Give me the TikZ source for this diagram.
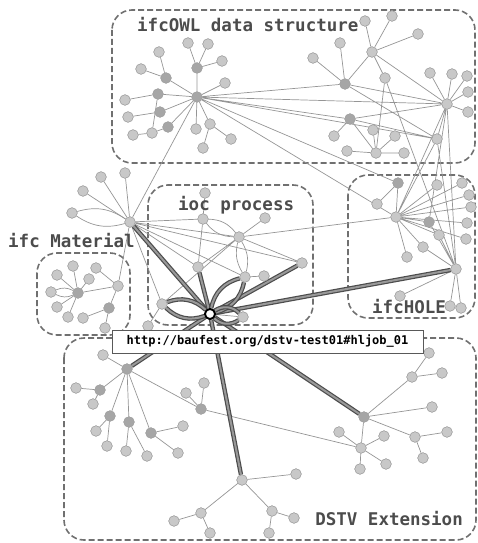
\documentclass[tikz,border=0pt]{standalone}
\usepackage{fontspec}
\setmonofont{DejaVu Sans Mono}
\definecolor{nodegray}{HTML}{C8C8C8}
\definecolor{nodeborder}{HTML}{A2A2A2}
\definecolor{darkfill}{HTML}{A6A6A6}
\definecolor{edgegray}{HTML}{959595}
\definecolor{boxgray}{HTML}{707070}
\definecolor{labgray}{HTML}{4C4C4C}
\tikzset{
  nd/.style={circle, fill=nodegray, draw=nodeborder, line width=0.5pt, minimum size=10.5pt, inner sep=0pt},
  dk/.style={nd, fill=darkfill},
  ed/.style={draw=edgegray, line width=0.7pt},
  th/.style={draw=black!70, double=black!40, double distance=2pt, line width=1.2pt},
  grp/.style={draw=boxgray, dash pattern=on 6pt off 3pt, line width=1.6pt, rounded corners=20pt},
  lbl/.style={text=labgray, font=\ttfamily\bfseries\fontsize{17.5}{20}\selectfont, inner sep=0pt},
  hub/.style={circle, fill=white, draw=black, line width=1.8pt, minimum size=10pt, inner sep=0pt}
}
\begin{document}
\begin{tikzpicture}[x=1pt,y=-1pt]
\useasboundingbox (0,0) rectangle (478,543);
% group boxes
\draw[grp] (112,10) rectangle (475,163);
\draw[grp] (148,185) rectangle (313,325);
\draw[grp] (348,175) rectangle (475,318);
\draw[grp] (37,253) rectangle (130,335);
\draw[grp] (64,338) rectangle (476,540);

% ---- nodes: ifcOWL
\node[dk] (A) at (197,97) {};
\node[dk] (a1) at (197,68) {};
\node[nd] (a11) at (188,43) {};
\node[nd] (a12) at (208,44) {};
\node[nd] (a13) at (222,61) {};
\node[nd] (a2) at (225,83) {};
\node[dk] (a3) at (166,78) {};
\node[nd] (a31) at (159,52) {};
\node[nd] (a32) at (141,69) {};
\node[dk] (a4) at (158,94) {};
\node[nd] (a41) at (125,100) {};
\node[dk] (a5) at (160,112) {};
\node[nd] (a51) at (128,117) {};
\node[dk] (a6) at (168,127) {};
\node[nd] (a61) at (152,133) {};
\node[nd] (a62) at (133,135) {};
\node[nd] (a7) at (196,129) {};
\node[nd] (a8) at (210,124) {};
\node[nd] (a81) at (203,148) {};
\node[nd] (a82) at (231,139) {};
\node[dk] (B) at (345,84) {};
\node[nd] (b1) at (340,43) {};
\node[nd] (b2) at (313,58) {};
\node[nd] (C) at (372,52) {};
\node[nd] (c1) at (365,21) {};
\node[nd] (c2) at (392,16) {};
\node[nd] (c3) at (418,34) {};
\node[nd] (c4) at (385,78) {};
\node[nd] (D) at (447,104) {};
\node[nd] (d1) at (430,73) {};
\node[nd] (d2) at (452,74) {};
\node[nd] (d3) at (467,76) {};
\node[nd] (d4) at (468,92) {};
\node[nd] (d5) at (468,112) {};
\node[dk] (E) at (350,119) {};
\node[nd] (e1) at (334,136) {};
\node[nd] (F) at (376,153) {};
\node[nd] (f1) at (347,151) {};
\node[nd] (f2) at (404,153) {};
\node[nd] (f3) at (373,130) {};
\node[nd] (f4) at (395,136) {};
\node[nd] (G) at (437,139) {};
% ---- ifcHOLE
\node[nd] (H) at (396,217) {};
\node[dk] (I) at (398,183) {};
\node[nd] (i1) at (377,204) {};
\node[nd] (h1) at (437,185) {};
\node[nd] (h2) at (462,183) {};
\node[nd] (h3) at (469,195) {};
\node[nd] (h4) at (471,207) {};
\node[nd] (h5) at (467,223) {};
\node[nd] (h6) at (466,239) {};
\node[dk] (h7) at (429,222) {};
\node[nd] (h8) at (439,235) {};
\node[nd] (h9) at (423,247) {};
\node[nd] (h10) at (407,257) {};
\node[nd] (J) at (456,269) {};
\node[nd] (j1) at (400,296) {};
\node[nd] (j2) at (450,306) {};
\node[nd] (j3) at (461,308) {};
% ---- ioc process
\node[nd] (k0) at (205,193) {};
\node[nd] (K) at (203,219) {};
\node[nd] (L) at (239,237) {};
\node[nd] (l1) at (265,218) {};
\node[nd] (M) at (198,267) {};
\node[nd] (N) at (245,277) {};
\node[nd] (n1) at (264,276) {};
\node[nd] (O) at (302,263) {};
\node[nd] (p1) at (162,304) {};
\node[nd] (q1) at (243,317) {};
\node[nd] (r1) at (148,326) {};
% ---- left hub
\node[nd] (P) at (130,222) {};
\node[nd] (pa) at (101,177) {};
\node[nd] (pb) at (125,173) {};
\node[nd] (pc) at (83,191) {};
\node[nd] (pd) at (72,213) {};
% ---- ifc Material
\node[dk] (Q) at (78,293) {};
\node[nd] (m1) at (57,275) {};
\node[nd] (m2) at (73,266) {};
\node[nd] (m3) at (89,279) {};
\node[nd] (m4) at (51,292) {};
\node[nd] (m5) at (57,307) {};
\node[nd] (m6) at (68,317) {};
\node[nd] (R) at (118,286) {};
\node[nd] (m7) at (96,268) {};
\node[dk] (S) at (109,308) {};
\node[nd] (m8) at (83,318) {};
\node[nd] (m9) at (105,328) {};
% ---- DSTV
\node[dk] (T) at (127,369) {};
\node[nd] (t1) at (103,355) {};
\node[dk] (t2) at (100,390) {};
\node[nd] (t21) at (76,388) {};
\node[nd] (t22) at (93,404) {};
\node[dk] (t3) at (110,416) {};
\node[nd] (t31) at (96,431) {};
\node[nd] (t32) at (107,446) {};
\node[dk] (t4) at (129,422) {};
\node[nd] (t41) at (126,451) {};
\node[nd] (t42) at (147,456) {};
\node[dk] (t5) at (151,433) {};
\node[nd] (t51) at (183,426) {};
\node[nd] (t52) at (178,453) {};
\node[dk] (U) at (201,409) {};
\node[nd] (u1) at (186,393) {};
\node[nd] (u2) at (204,383) {};
\node[dk] (V) at (364,417) {};
\node[nd] (v1) at (412,377) {};
\node[nd] (v11) at (429,353) {};
\node[nd] (v12) at (442,373) {};
\node[nd] (v2) at (432,407) {};
\node[nd] (v3) at (415,437) {};
\node[nd] (v31) at (447,432) {};
\node[nd] (v32) at (423,458) {};
\node[nd] (W) at (361,448) {};
\node[nd] (w1) at (339,432) {};
\node[nd] (w2) at (384,436) {};
\node[nd] (w3) at (360,469) {};
\node[nd] (w4) at (386,464) {};
\node[nd] (X) at (242,480) {};
\node[nd] (x1) at (296,474) {};
\node[nd] (x2) at (201,513) {};
\node[nd] (x21) at (174,521) {};
\node[nd] (x22) at (210,533) {};
\node[nd] (x3) at (272,511) {};
\node[nd] (x31) at (294,518) {};
\node[nd] (x32) at (269,533) {};
% hub
\node[hub] (Z) at (210,314) {};

% ---- thin edges
\path[ed]
 (A)--(a1) (a1)--(a11) (a1)--(a12) (a1)--(a13) (A)--(a2)
 (A)--(a3) (a3)--(a31) (a3)--(a32) (A)--(a4) (a4)--(a41)
 (A)--(a5) (a5)--(a51) (A)--(a6) (a6)--(a61) (a61)--(a62) (a61)--(a4)
 (A)--(a7) (A)--(a8) (a8)--(a81) (a8)--(a82)
 (A)--(B) (A)--(D) (A)--(G) (A)--(E) (A)--(I) (A)--(H) (A)--(P)
 (B)--(b1) (B)--(b2) (C)--(B) (C)--(c1) (C)--(c2) (C)--(c3) (C)--(c4) (C)--(D)
 (B)--(D) (B)--(G) (c4)--(F) (c4)--(J)
 (D)--(d1) (D)--(d2) (D)--(d3) (D)--(d4) (D)--(d5) (D)--(G)
 (E)--(D) (E)--(e1) (E)--(F) (E)--(G)
 (F)--(f1) (F)--(f2) (F)--(f3) (F)--(f4)
 (D)--(H) (D)--(J) (G)--(H) (G)--(J) (h7)--(D)
 (H)--(I) (I)--(i1) (H)--(h1) (H)--(h2) (H)--(h3) (H)--(h4) (H)--(h5) (H)--(h6)
 (H)--(h7) (H)--(h8) (H)--(h9) (H)--(h10) (h8)--(J) (h9)--(J) (h7)--(J)
 (J)--(j1) (J)--(j2) (J)--(j3)
 (P)--(pa) (P)--(pb) (P)--(pc) (P)--(K) (P)--(L) (P)--(N) (P)--(O) (P)--(M) (P)--(p1) (P)--(R)
 (L)--(H) (K)--(k0) (K)--(M) (L)--(l1) (L)--(O) (L)--(M) (L)--(p1) (N)--(n1) (p1)--(r1) (Z)--(q1)
 (Q)--(m1) (Q)--(m2) (Q)--(m3) (Q)--(m5) (Q)--(m6) (Q)--(R) (R)--(m7) (R)--(S) (S)--(m8) (S)--(m9)
 (T)--(t1) (T)--(t2) (t2)--(t21) (t2)--(t22) (T)--(t3) (t3)--(t31) (t3)--(t32)
 (T)--(t4) (t4)--(t41) (t4)--(t42) (T)--(t5) (t5)--(t51) (t5)--(t52)
 (T)--(U) (U)--(u1) (U)--(u2) (U)--(W)
 (V)--(v1) (v1)--(v11) (v1)--(v12) (V)--(v2) (V)--(v3) (v3)--(v31) (v3)--(v32) (V)--(W)
 (W)--(w1) (W)--(w2) (W)--(w3) (W)--(w4)
 (X)--(x1) (X)--(x2) (x2)--(x21) (x2)--(x22) (X)--(x3) (x3)--(x31) (x3)--(x32);
\draw[ed] (P) to[bend left=25] (pd);
\draw[ed] (P) to[bend right=25] (pd);
\draw[ed] (Q) to[bend left=25] (m4);
\draw[ed] (Q) to[bend right=25] (m4);
\draw[ed] (K) to[bend left=25] (L);
\draw[ed] (K) to[bend right=25] (L);
\draw[ed] (L) to[bend left=22] (N);
\draw[ed] (L) to[bend right=22] (N);

% ---- thick edges
\draw[th] (Z)--(P);
\draw[th] (Z)--(M);
\draw[th] (Z)--(O);
\draw[th] (Z)--(J);
\draw[th] (Z)--(T);
\draw[th] (Z)--(X);
\draw[th] (Z)--(V);
\draw[th] (Z) to[bend left=32] (p1);
\draw[th] (Z) to[bend right=32] (p1);
\draw[th] (Z) to[bend left=32] (N);
\draw[th] (Z) to[bend right=32] (N);
\draw[th] (Z) to[bend left=40] (q1);
\draw[th] (Z) to[bend right=40] (q1);

% redraw nodes on top of edges
\foreach \n in {A,a1,a3,a4,a5,a6,B,E,I,h7,Q,S,T,t2,t3,t4,t5,U,V}{\node[dk] at (\n) {};}
\foreach \n in {a11,a12,a13,a2,a31,a32,a41,a51,a61,a62,a7,a8,a81,a82,b1,b2,C,c1,c2,c3,c4,D,d1,d2,d3,d4,d5,e1,F,f1,f2,f3,f4,G,H,i1,h1,h2,h3,h4,h5,h6,h8,h9,h10,J,j1,j2,j3,k0,K,L,l1,M,N,n1,O,p1,q1,r1,P,pa,pb,pc,pd,m1,m2,m3,m4,m5,m6,R,m7,m8,m9,t1,t21,t22,t31,t32,t41,t42,t51,t52,u1,u2,v1,v11,v12,v2,v3,v31,v32,W,w1,w2,w3,w4,X,x1,x2,x21,x22,x3,x31,x32}{\node[nd] at (\n) {};}
\node[hub] at (Z) {};

% ---- labels
\node[lbl, anchor=west] (lowl) at (137,25) {ifcOWL data structure};
\node[lbl, anchor=west] (lioc) at (178,205) {ioc process};
\node[lbl, anchor=west] (lhole) at (372,307) {ifcHOLE};
\node[lbl, anchor=west] (lmat) at (8,241) {ifc Material};
\node[lbl, anchor=east] (ldstv) at (463,519) {DSTV Extension};
\node[draw=black!65, fill=white, line width=0.6pt, minimum width=311pt, minimum height=23pt, inner sep=0pt,
  font=\ttfamily\bfseries\fontsize{12}{14}\selectfont] (url) at (267.5,341.5) {http://baufest.org/dstv-test01\#hljob\_01};
\end{tikzpicture}
\end{document}
